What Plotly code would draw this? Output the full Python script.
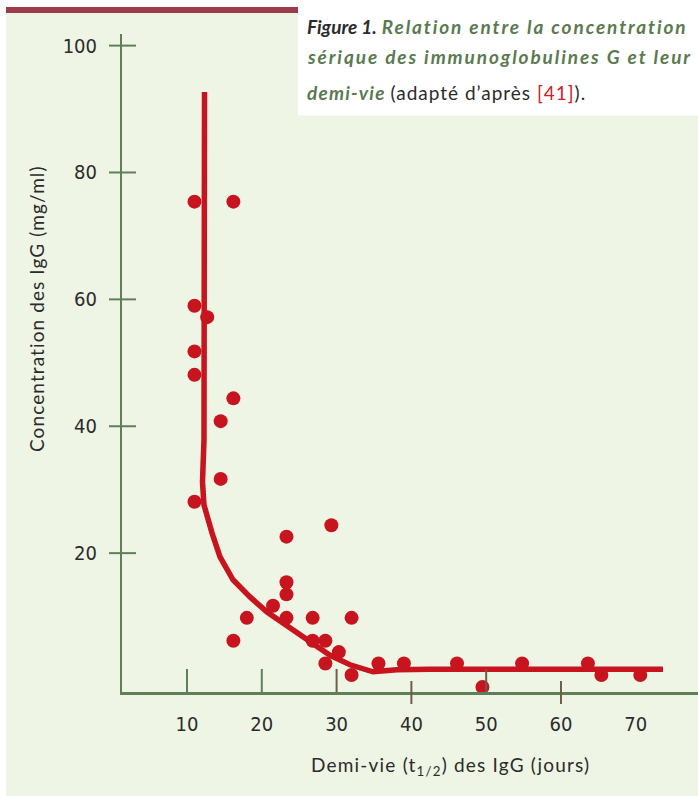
import plotly.graph_objects as go

# ---- data ----
dots_x = [11.0, 16.2, 11.0, 12.7, 11.0, 11.0, 16.2, 14.5, 14.5, 11.0,
          23.3, 29.3, 23.3, 23.3, 21.5, 18.0, 23.3, 26.8, 32.0, 16.2,
          26.8, 28.5, 30.3, 28.5, 32.0, 35.6, 39.0, 46.1, 54.8, 63.6,
          65.4, 70.6, 49.5]
dots_y = [75.4, 75.4, 59.0, 57.2, 51.8, 48.1, 44.4, 40.8, 31.7, 28.1,
          22.6, 24.4, 15.4, 13.5, 11.7, 9.8, 9.8, 9.8, 9.8, 6.2,
          6.2, 6.2, 4.4, 2.6, 0.8, 2.6, 2.6, 2.6, 2.6, 2.6,
          0.8, 0.8, -1.1]

curve_x = [12.34, 12.27, 12.07, 12.27, 13.34, 14.41, 16.15, 18.42, 20.70,
           23.77, 26.44, 29.12, 31.79, 34.87, 38.07, 42.49, 73.64]
curve_y = [92.7, 37.8, 31.2, 27.6, 23.2, 19.4, 15.8, 13.1, 10.7,
           8.2, 6.0, 3.9, 2.4, 1.3, 1.6, 1.7, 1.7]

x_ticks = [10, 20, 30, 40, 50, 60, 70]
y_ticks = [20, 40, 60, 80, 100]
x_ticks_up = [10, 20, 30, 50]
x_ticks_cross = [40, 60]

# ---- styling ----
W, H = 698, 796
L, R, T, B = 122, 0, 34, 104
PW, PH = W - L - R, H - T - B
RED = "#c8141e"
AX = "#5f7f58"
AX2 = "#6f5d47"
BG = "#eef5e5"
TXT = "#2b2b2b"
GRN = "#5b7a50"
NUM_FONT = "Liberation Sans Narrow, DejaVu Sans Condensed, Lato, sans-serif"
LAB_FONT = "Lato, Open Sans, sans-serif"

def px(p):
    return (p - L) / PW

def py(p):
    return (H - B - p) / PH

fig = go.Figure()
fig.add_trace(go.Scatter(x=curve_x, y=curve_y, mode="lines",
                         line=dict(color=RED, width=5.5), hoverinfo="skip",
                         cliponaxis=False))
fig.add_trace(go.Scatter(x=dots_x, y=dots_y, mode="markers",
                         marker=dict(color=RED, size=14, line=dict(width=0)),
                         cliponaxis=False))

shapes = []
# green panel, red top bar, white caption box
shapes.append(dict(type="rect", xref="paper", yref="paper", x0=px(6), x1=1.0,
                   y0=py(H), y1=py(13), fillcolor=BG, line=dict(width=0), layer="below"))
shapes.append(dict(type="rect", xref="paper", yref="paper", x0=px(6), x1=px(298),
                   y0=py(13), y1=py(7), fillcolor="#9a3c4a", line=dict(width=0), layer="below"))
shapes.append(dict(type="rect", xref="paper", yref="paper", x0=px(298), x1=1.0,
                   y0=py(115.5), y1=py(0), fillcolor="white", line=dict(width=0), layer="below"))
# y ticks (crossing the axis)
for v in y_ticks:
    shapes.append(dict(type="line", xref="paper", yref="y", x0=px(109), x1=px(136),
                       y0=v, y1=v, line=dict(color=AX, width=2)))
# x ticks
for v in x_ticks_up:
    shapes.append(dict(type="line", xref="x", yref="paper", x0=v, x1=v,
                       y0=0, y1=23 / PH, line=dict(color=AX if v < 30 else AX2, width=2)))
for v in x_ticks_cross:
    shapes.append(dict(type="line", xref="x", yref="paper", x0=v, x1=v,
                       y0=-12 / PH, y1=11 / PH, line=dict(color=AX2, width=2)))

annotations = [
    dict(text="<span style='letter-spacing:1.1px'>Concentration des IgG (mg/ml)</span>",
         xref="paper", yref="paper",
         x=px(36), y=py(309), textangle=-90, showarrow=False,
         font=dict(family=LAB_FONT, size=19, color=TXT), xanchor="center", yanchor="middle"),
    dict(text="<span style='letter-spacing:1.2px'>Demi-vie (t<sub>1/2</sub>) des IgG (jours)</span>",
         xref="paper", yref="paper",
         x=px(450), y=py(766), showarrow=False,
         font=dict(family=LAB_FONT, size=19, color=TXT), xanchor="center", yanchor="middle"),
    dict(text="<b><i>Figure 1.</i></b> <span style='color:%s;letter-spacing:1.9px'><b><i>Relation entre la concentration</i></b></span>" % GRN,
         xref="paper", yref="paper", x=px(305), y=py(26.5), showarrow=False,
         font=dict(family=LAB_FONT, size=19, color=TXT), xanchor="left", yanchor="middle"),
    dict(text="<span style='color:%s;letter-spacing:1.9px'><b><i>sérique des immunoglobulines G et leur</i></b></span>" % GRN,
         xref="paper", yref="paper", x=px(305), y=py(57), showarrow=False,
         font=dict(family=LAB_FONT, size=19, color=TXT), xanchor="left", yanchor="middle"),
    dict(text="<span style='color:%s;letter-spacing:1.2px'><b><i>demi-vie</i></b></span> <span style='letter-spacing:1px'>(adapté d’après <span style='color:#d0202a'>[41]</span>).</span>" % GRN,
         xref="paper", yref="paper", x=px(305), y=py(92.5), showarrow=False,
         font=dict(family=LAB_FONT, size=19, color=TXT), xanchor="left", yanchor="middle"),
]

fig.update_layout(
    width=W, height=H,
    margin=dict(l=L, r=R, t=T, b=B, pad=0),
    paper_bgcolor="white", plot_bgcolor="rgba(0,0,0,0)",
    showlegend=False,
    shapes=shapes, annotations=annotations,
    xaxis=dict(range=[1.31, 78.32], tickvals=x_ticks, ticks="", showgrid=False,
               zeroline=False, showline=True, linecolor=AX, linewidth=3,
               ticklabelstandoff=12,
               tickfont=dict(family=NUM_FONT, size=20, color=TXT)),
    yaxis=dict(range=[-1.89, 101.83], tickvals=y_ticks, ticks="", showgrid=False,
               zeroline=False, showline=True, linecolor=AX, linewidth=2,
               ticklabelstandoff=19,
               tickfont=dict(family=NUM_FONT, size=20, color=TXT)),
)

fig.write_html("out.html", config={"displayModeBar": False},
               post_script="document.body.style.margin='0';")
